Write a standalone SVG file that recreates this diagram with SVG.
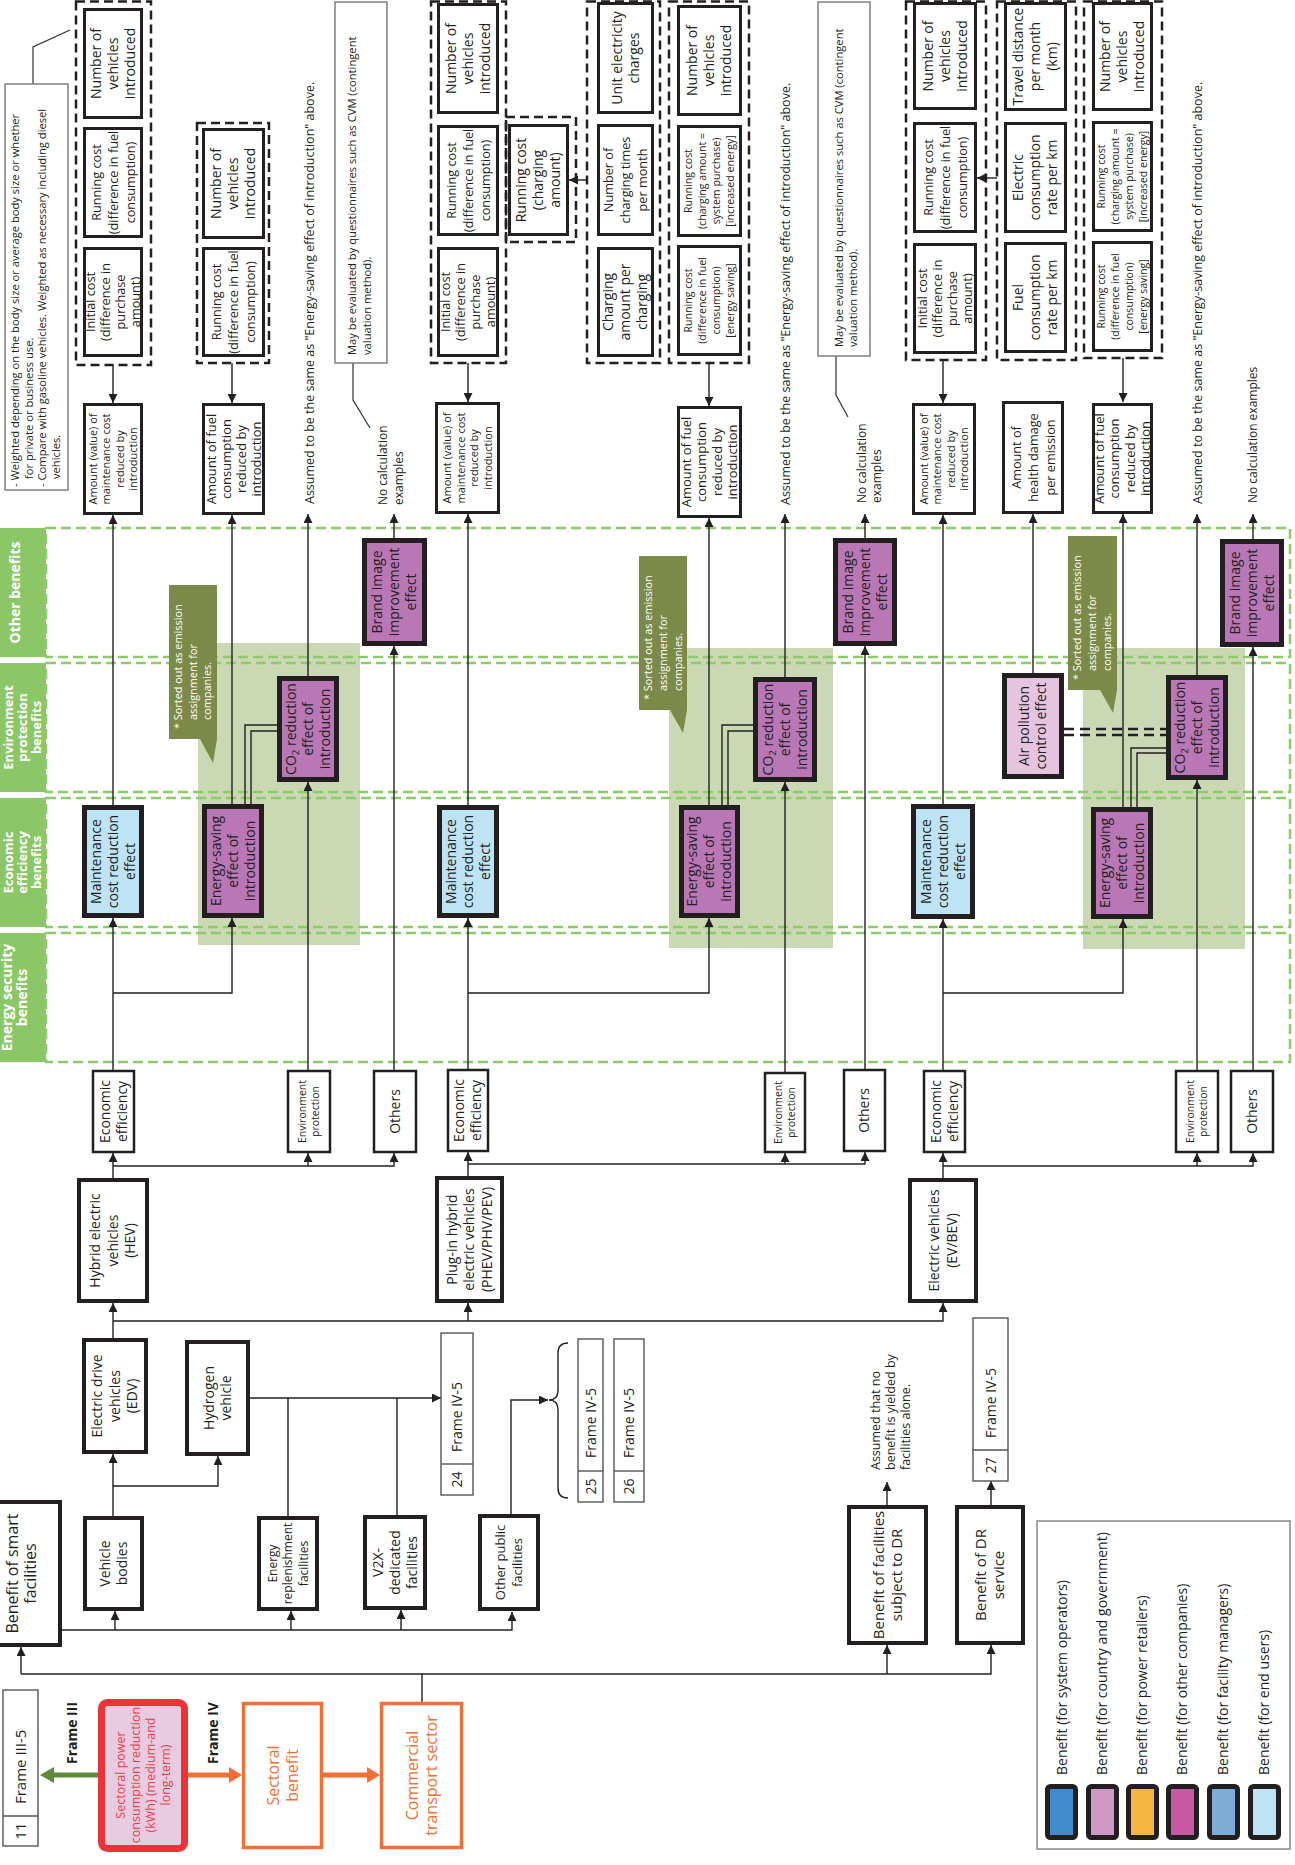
<svg xmlns="http://www.w3.org/2000/svg" width="1295" height="1865" viewBox="0 0 1295 1865">
<defs>
<marker id="ah" markerUnits="userSpaceOnUse" markerWidth="10" markerHeight="9" refX="9" refY="4.5" orient="auto"><path d="M0,0 L9,4.5 L0,9 z" fill="#231f20"/></marker>
<style>
.bx{fill:#fff;stroke:#231f20;stroke-width:3}
.bk{stroke:#231f20;stroke-width:5}
.vb{fill:#fff;stroke:#231f20;stroke-width:4}
.cb{fill:#fff;stroke:#231f20;stroke-width:2.5}
.fb{fill:#fff;stroke:#555;stroke-width:1.4}
.nb{fill:#fff;stroke:#777;stroke-width:1.4}
.gd{fill:none;stroke:#231f20;stroke-width:2.5;stroke-dasharray:9 5}
.band{fill:none;stroke:#8dcb6a;stroke-width:2.5;stroke-dasharray:10 5}
.lab{fill:#8cc767}
.hl{fill:#cad9b4}
.co{fill:#7b8a48}
.ln{fill:none;stroke:#231f20;stroke-width:1.4}
.a{marker-end:url(#ah)}
.pu{fill:#b978b5}
.lb{fill:#bde3f5}
.pk{fill:#e6c4e0}
.tx{font-family:"Open Sans","Liberation Sans",sans-serif;fill:#231f20;text-anchor:middle}
.st{text-anchor:start}
.w{fill:#fff}
.b{font-weight:bold}
.f16{font-size:16px}.f15{font-size:15px}.f14{font-size:14px}.f135{font-size:12.7px}.f13{font-size:13px}.f125{font-size:12.5px}.f12{font-size:12px}.f112{font-size:11.2px}.f11{font-size:11px}.f109{font-size:10.9px}.f108{font-size:10.6px}.f105{font-size:10.5px}
.lb3{font-size:13px}
</style>
</defs>
<rect width="1295" height="1865" fill="#fff"/>

<!-- category bands -->
<g id="bands">
<rect class="hl" x="198" y="643" width="162" height="302"/>
<rect class="hl" x="669" y="648" width="164" height="300"/>
<rect class="hl" x="1083" y="648" width="162" height="301"/>
<rect class="lab" x="-20" y="528" width="66" height="129"/>
<rect class="lab" x="-20" y="663" width="66" height="129"/>
<rect class="lab" x="-20" y="798" width="66" height="129"/>
<rect class="lab" x="-20" y="933" width="66" height="129"/>
<rect class="band" x="46" y="528" width="1244" height="129"/>
<rect class="band" x="46" y="663" width="1244" height="129"/>
<rect class="band" x="46" y="798" width="1244" height="129"/>
<rect class="band" x="46" y="933" width="1244" height="129"/>
<text class="tx w b f14" transform="translate(15 592.5) rotate(-90)"><tspan x="0" y="4.9">Other benefits</tspan></text>
<text class="tx w b lb3" transform="translate(22 727.5) rotate(-90)"><tspan x="0" y="-9.4">Environment</tspan><tspan x="0" y="4.6">protection</tspan><tspan x="0" y="18.6">benefits</tspan></text>
<text class="tx w b lb3" transform="translate(22 862.5) rotate(-90)"><tspan x="0" y="-9.4">Economic</tspan><tspan x="0" y="4.6">efficiency</tspan><tspan x="0" y="18.6">benefits</tspan></text>
<text class="tx w b f14" transform="translate(14.5 997.5) rotate(-90)"><tspan x="0" y="-2.6">Energy security</tspan><tspan x="0" y="12.4">benefits</tspan></text>
</g>

<!-- callouts -->
<g id="callout-hev"><polygon class="co" points="169,585 217,585 217,739 213,763 200,739 169,739"/>
<text class="tx st w f109" transform="translate(0 729) rotate(-90)"><tspan x="0" y="181.7">* Sorted out as emission</tspan><tspan x="9" y="196.7">assignment for</tspan><tspan x="9" y="211.2">companies.</tspan></text></g>
<g id="callout-phev"><polygon class="co" points="639,556 687,556 687,710 683,733 670,710 639,710"/>
<text class="tx st w f109" transform="translate(0 700) rotate(-90)"><tspan x="0" y="652">* Sorted out as emission</tspan><tspan x="9" y="667">assignment for</tspan><tspan x="9" y="682">companies.</tspan></text></g>
<g id="callout-ev"><polygon class="co" points="1068,536 1117,536 1117,690 1113,713 1100,690 1068,690"/>
<text class="tx st w f109" transform="translate(0 680) rotate(-90)"><tspan x="0" y="1081">* Sorted out as emission</tspan><tspan x="9" y="1096">assignment for</tspan><tspan x="9" y="1111">companies.</tspan></text></g>

<!-- connectors -->
<g id="connectors">
<path class="ln a" d="M113 1338V1303"/>
<path class="ln a" d="M113 1321H943V1303"/>
<path class="ln a" d="M468 1321V1303"/>
<path class="ln a" d="M113 1178V1153"/>
<path class="ln a" d="M113 1166H394V1153"/>
<path class="ln a" d="M308 1166V1153"/>
<path class="ln a" d="M113 1070V918"/>
<path class="ln a" d="M113 993H232V918"/>
<path class="ln a" d="M113 805V515"/>
<path class="ln a" d="M232 804V515"/>
<path class="ln" d="M245 804V725H277"/>
<path class="ln" d="M251 804V731H277"/>
<path class="ln a" d="M308 1070V782"/>
<path class="ln a" d="M308 676V514"/>
<path class="ln a" d="M394 1070V646"/>
<path class="ln a" d="M394 538V514"/>
<path class="ln a" d="M113 365V403"/>
<path class="ln a" d="M232 363V403"/>
<path class="ln a" d="M468 1176V1152"/>
<path class="ln a" d="M468 1164H865V1152"/>
<path class="ln a" d="M785 1164V1153"/>
<path class="ln a" d="M468 1069V918"/>
<path class="ln a" d="M468 993H709V918"/>
<path class="ln a" d="M468 805V514"/>
<path class="ln a" d="M709 805V518"/>
<path class="ln" d="M722 805V725H753"/>
<path class="ln" d="M728 805V731H753"/>
<path class="ln a" d="M785 1072V782"/>
<path class="ln a" d="M785 677V514"/>
<path class="ln a" d="M865 1069V646"/>
<path class="ln a" d="M865 538V514"/>
<path class="ln a" d="M468 363V402"/>
<path class="ln a" d="M709 363V406"/>
<path class="ln a" d="M587 180H569"/>
<path class="ln a" d="M943 1178V1153"/>
<path class="ln a" d="M943 1166H1253V1153"/>
<path class="ln a" d="M1197 1166V1153"/>
<path class="ln a" d="M943 1070V919"/>
<path class="ln a" d="M943 993H1123V919"/>
<path class="ln a" d="M943 804V515"/>
<path class="ln a" d="M1033 673V514"/>
<path class="ln a" d="M1123 807V514"/>
<path class="ln" d="M1131 807V748H1166"/>
<path class="ln" d="M1137 807V753H1166"/>
<path class="ln a" d="M1197 1070V780"/>
<path class="ln a" d="M1197 675V514"/>
<path class="ln a" d="M1253 1070V647"/>
<path class="ln a" d="M1253 539V514"/>
<path class="ln a" d="M943 360V403"/>
<path class="ln a" d="M1123 358V402"/>
<path class="ln a" d="M997 178H977"/>
<path d="M1064 729H1166M1064 735H1166" fill="none" stroke="#231f20" stroke-width="2.5" stroke-dasharray="10 6"/>
<path class="ln a" d="M113 1516V1454"/>
<path class="ln a" d="M113 1486H218V1456"/>
<path class="ln a" d="M62 1630H512V1612"/>
<path class="ln a" d="M115 1630V1611"/>
<path class="ln a" d="M291 1630V1611"/>
<path class="ln a" d="M401 1630V1610"/>
<path class="ln" d="M288 1516V1398"/>
<path class="ln" d="M397 1515V1398"/>
<path class="ln a" d="M250 1398H441"/>
<path class="ln a" d="M511 1514V1400H548"/>
<path class="ln" d="M568 1343Q558 1343 558 1353V1390Q558 1400 549 1400Q558 1400 558 1410V1488Q558 1498 568 1498"/>
<path class="ln a" d="M21 1674H991V1645"/>
<path class="ln a" d="M21 1674V1647"/>
<path class="ln a" d="M887 1674V1645"/>
<path class="ln" d="M422 1702V1674"/>
<path class="ln a" d="M887 1505V1482"/>
<path class="ln a" d="M991 1505V1481"/>
<path d="M33 84V47L70 30M353 363V400L370 428M836 356V395L848 417" fill="none" stroke="#333" stroke-width="1.2"/>
<line x1="98" y1="1775" x2="52" y2="1775" stroke="#5b8b3b" stroke-width="5"/>
<polygon points="40,1775 54,1767 54,1783" fill="#5b8b3b"/>
<line x1="188" y1="1775" x2="231" y2="1775" stroke="#f26f35" stroke-width="5"/>
<polygon points="242,1775 229,1767 229,1783" fill="#f26f35"/>
<line x1="323" y1="1775" x2="369" y2="1775" stroke="#f26f35" stroke-width="5"/>
<polygon points="380,1775 367,1767 367,1783" fill="#f26f35"/>
</g>

<!-- notes -->
<g id="note-weighted"><rect class="nb" x="5" y="84" width="63" height="406"/>
<text class="tx st f112" transform="translate(0 487) rotate(-90)"><tspan x="0" y="18.9">- Weighted depending on the body size or average body size or whether</tspan><tspan x="8" y="32.6">for private or business use.</tspan><tspan x="0" y="46.3">- Compare with gasoline vehicles. Weighted as necessary including diesel</tspan><tspan x="8" y="60">vehicles.</tspan></text></g>
<g id="note-cvm1"><rect class="nb" x="335" y="2" width="52" height="361"/>
<text class="tx st f112" transform="translate(0 355) rotate(-90)"><tspan x="0" y="355.9">May be evaluated by questionnaires such as CVM (contingent</tspan><tspan x="0" y="370.9">valuation method).</tspan></text></g>
<g id="note-cvm2"><rect class="nb" x="818" y="2" width="52" height="354"/>
<text class="tx st f112" transform="translate(0 347) rotate(-90)"><tspan x="0" y="842.9">May be evaluated by questionnaires such as CVM (contingent</tspan><tspan x="0" y="856.9">valuation method).</tspan></text></g>
<g id="text-assumed1"><text class="tx st f125" transform="translate(0 504) rotate(-90)"><tspan x="0" y="314.4">Assumed to be the same as &quot;Energy-saving effect of introduction&quot; above.</tspan></text></g>
<g id="text-assumed2"><text class="tx st f125" transform="translate(0 505) rotate(-90)"><tspan x="0" y="790.4">Assumed to be the same as &quot;Energy-saving effect of introduction&quot; above.</tspan></text></g>
<g id="text-assumed3"><text class="tx st f125" transform="translate(0 504) rotate(-90)"><tspan x="0" y="1202.4">Assumed to be the same as &quot;Energy-saving effect of introduction&quot; above.</tspan></text></g>
<g id="text-nocalc1"><text class="tx st f12" transform="translate(0 505) rotate(-90)"><tspan x="0" y="387.2">No calculation</tspan><tspan x="0" y="403.2">examples</tspan></text></g>
<g id="text-nocalc2"><text class="tx st f12" transform="translate(0 503) rotate(-90)"><tspan x="0" y="866">No calculation</tspan><tspan x="0" y="881">examples</tspan></text></g>
<g id="text-nocalc3"><text class="tx st f12" transform="translate(0 503) rotate(-90)"><tspan x="0" y="1257">No calculation examples</tspan></text></g>
<g id="text-dr-note"><text class="tx st f125" transform="translate(0 1470) rotate(-90)"><tspan x="0" y="880.4">Assumed that no</tspan><tspan x="0" y="895.4">benefit is yielded by</tspan><tspan x="0" y="910.4">facilities alone.</tspan></text></g>

<!-- HEV indicator groups -->
<g id="hev-ind1">
<rect class="gd" x="76" y="1.5" width="75" height="363.5"/>
<rect class="bx" x="84.5" y="9.5" width="57" height="108"/>
<text class="tx f14" transform="translate(113 63.5) rotate(-90)"><tspan x="0" y="-12.1">Number of</tspan><tspan x="0" y="4.9">vehicles</tspan><tspan x="0" y="21.9">introduced</tspan></text>
<rect class="bx" x="84.5" y="128.5" width="57" height="108"/>
<text class="tx f135" transform="translate(113 182.5) rotate(-90)"><tspan x="0" y="-12.3">Running cost</tspan><tspan x="0" y="4.7">(difference in fuel</tspan><tspan x="0" y="21.7">consumption)</tspan></text>
<rect class="bx" x="84.5" y="248.5" width="57" height="107"/>
<text class="tx f135" transform="translate(113 302) rotate(-90)"><tspan x="0" y="-17.8">Initial cost</tspan><tspan x="0" y="-2.8">(difference in</tspan><tspan x="0" y="12.2">purchase</tspan><tspan x="0" y="27.2">amount)</tspan></text>
</g>
<g id="hev-amount-maint"><rect class="bx" x="84.5" y="404.5" width="57" height="109"/>
<text class="tx f11" transform="translate(113 459) rotate(-90)"><tspan x="0" y="-16.4">Amount (value) of</tspan><tspan x="0" y="-2.9">maintenance cost</tspan><tspan x="0" y="10.6">reduced by</tspan><tspan x="0" y="24.1">introduction</tspan></text></g>
<g id="hev-ind2">
<rect class="gd" x="197" y="123" width="72" height="240"/>
<rect class="bx" x="203.5" y="129.5" width="60" height="108"/>
<text class="tx f14" transform="translate(233.5 183.5) rotate(-90)"><tspan x="0" y="-12.1">Number of</tspan><tspan x="0" y="4.9">vehicles</tspan><tspan x="0" y="21.9">introduced</tspan></text>
<rect class="bx" x="203.5" y="248.5" width="60" height="107"/>
<text class="tx f135" transform="translate(233.5 302) rotate(-90)"><tspan x="0" y="-12.3">Running cost</tspan><tspan x="0" y="4.7">(difference in fuel</tspan><tspan x="0" y="21.7">consumption)</tspan></text>
</g>
<g id="hev-amount-fuel"><rect class="bx" x="203.5" y="404.5" width="60" height="109"/>
<text class="tx f13" transform="translate(234 459) rotate(-90)"><tspan x="0" y="-18.3">Amount of fuel</tspan><tspan x="0" y="-3.1">consumption</tspan><tspan x="0" y="12.1">reduced by</tspan><tspan x="0" y="27.3">introduction</tspan></text></g>

<!-- PHEV indicator groups -->
<g id="phev-ind1">
<rect class="gd" x="431" y="1.5" width="75" height="361.5"/>
<rect class="gd" x="506" y="117" width="70" height="125"/>
<rect class="bx" x="438.5" y="4.5" width="59" height="108"/>
<text class="tx f14" transform="translate(468 58.5) rotate(-90)"><tspan x="0" y="-12.1">Number of</tspan><tspan x="0" y="4.9">vehicles</tspan><tspan x="0" y="21.9">introduced</tspan></text>
<rect class="bx" x="438.5" y="126.5" width="59" height="108"/>
<text class="tx f135" transform="translate(468 180.5) rotate(-90)"><tspan x="0" y="-12.3">Running cost</tspan><tspan x="0" y="4.7">(difference in fuel</tspan><tspan x="0" y="21.7">consumption)</tspan></text>
<rect class="bx" x="438.5" y="248.5" width="59" height="107"/>
<text class="tx f135" transform="translate(468 302) rotate(-90)"><tspan x="0" y="-17.8">Initial cost</tspan><tspan x="0" y="-2.8">(difference in</tspan><tspan x="0" y="12.2">purchase</tspan><tspan x="0" y="27.2">amount)</tspan></text>
<rect class="bx" x="509.5" y="125.5" width="58" height="109"/>
<text class="tx f14" transform="translate(538.5 180) rotate(-90)"><tspan x="0" y="-12.1">Running cost</tspan><tspan x="0" y="4.9">(charging</tspan><tspan x="0" y="21.9">amount)</tspan></text>
</g>
<g id="phev-ind-charge">
<rect class="gd" x="587" y="1.5" width="73" height="361.5"/>
<rect class="bx" x="598.5" y="3.5" width="54" height="109"/>
<text class="tx f14" transform="translate(625.5 58) rotate(-90)"><tspan x="0" y="-3.6">Unit electricity</tspan><tspan x="0" y="13.4">charges</tspan></text>
<rect class="bx" x="598.5" y="125.5" width="54" height="109"/>
<text class="tx f135" transform="translate(625.5 180) rotate(-90)"><tspan x="0" y="-12.3">Number of</tspan><tspan x="0" y="4.7">charging times</tspan><tspan x="0" y="21.7">per month</tspan></text>
<rect class="bx" x="598.5" y="248.5" width="54" height="107"/>
<text class="tx f14" transform="translate(625.5 302) rotate(-90)"><tspan x="0" y="-12.1">Charging</tspan><tspan x="0" y="4.9">amount per</tspan><tspan x="0" y="21.9">charging</tspan></text>
</g>
<g id="phev-ind2">
<rect class="gd" x="669" y="1.5" width="80" height="361.5"/>
<rect class="bx" x="678.5" y="6.5" width="62" height="108"/>
<text class="tx f14" transform="translate(709.5 60.5) rotate(-90)"><tspan x="0" y="-12.1">Number of</tspan><tspan x="0" y="4.9">vehicles</tspan><tspan x="0" y="21.9">introduced</tspan></text>
<rect class="bx" x="678.5" y="126.5" width="62" height="109"/>
<text class="tx f108" transform="translate(709.5 181) rotate(-90)"><tspan x="0" y="-17.2">Running cost</tspan><tspan x="0" y="-3.2">(charging amount =</tspan><tspan x="0" y="10.8">system purchase)</tspan><tspan x="0" y="24.8">[increased energy]</tspan></text>
<rect class="bx" x="678.5" y="246.5" width="62" height="108"/>
<text class="tx f108" transform="translate(709.5 300.5) rotate(-90)"><tspan x="0" y="-17.2">Running cost</tspan><tspan x="0" y="-3.2">(difference in fuel</tspan><tspan x="0" y="10.8">consumption)</tspan><tspan x="0" y="24.8">[energy saving]</tspan></text>
</g>
<g id="phev-amount-maint"><rect class="bx" x="436.5" y="403.5" width="62" height="109"/>
<text class="tx f11" transform="translate(467.5 458) rotate(-90)"><tspan x="0" y="-16.4">Amount (value) of</tspan><tspan x="0" y="-2.9">maintenance cost</tspan><tspan x="0" y="10.6">reduced by</tspan><tspan x="0" y="24.1">introduction</tspan></text></g>
<g id="phev-amount-fuel"><rect class="bx" x="678.5" y="407.5" width="62" height="109"/>
<text class="tx f13" transform="translate(709.5 462) rotate(-90)"><tspan x="0" y="-18.3">Amount of fuel</tspan><tspan x="0" y="-3.1">consumption</tspan><tspan x="0" y="12.1">reduced by</tspan><tspan x="0" y="27.3">introduction</tspan></text></g>

<!-- EV indicator groups -->
<g id="ev-ind1">
<rect class="gd" x="906" y="1.5" width="80" height="358.5"/>
<rect class="bx" x="914.5" y="3.5" width="61" height="105"/>
<text class="tx f14" transform="translate(945 56) rotate(-90)"><tspan x="0" y="-12.1">Number of</tspan><tspan x="0" y="4.9">vehicles</tspan><tspan x="0" y="21.9">introduced</tspan></text>
<rect class="bx" x="914.5" y="123.5" width="61" height="108"/>
<text class="tx f135" transform="translate(945 177.5) rotate(-90)"><tspan x="0" y="-12.3">Running cost</tspan><tspan x="0" y="4.7">(difference in fuel</tspan><tspan x="0" y="21.7">consumption)</tspan></text>
<rect class="bx" x="914.5" y="244.5" width="61" height="108"/>
<text class="tx f135" transform="translate(945 298.5) rotate(-90)"><tspan x="0" y="-17.8">Initial cost</tspan><tspan x="0" y="-2.8">(difference in</tspan><tspan x="0" y="12.2">purchase</tspan><tspan x="0" y="27.2">amount)</tspan></text>
</g>
<g id="ev-ind-rate">
<rect class="gd" x="997" y="1.5" width="79" height="358.5"/>
<rect class="bx" x="1005.5" y="3.5" width="60" height="106"/>
<text class="tx f14" transform="translate(1035.5 56.5) rotate(-90)"><tspan x="0" y="-12.1">Travel distance</tspan><tspan x="0" y="4.9">per month</tspan><tspan x="0" y="21.9">(km)</tspan></text>
<rect class="bx" x="1005.5" y="123.5" width="60" height="108"/>
<text class="tx f14" transform="translate(1035.5 177.5) rotate(-90)"><tspan x="0" y="-12.1">Electric</tspan><tspan x="0" y="4.9">consumption</tspan><tspan x="0" y="21.9">rate per km</tspan></text>
<rect class="bx" x="1005.5" y="243.5" width="60" height="108"/>
<text class="tx f14" transform="translate(1035.5 297.5) rotate(-90)"><tspan x="0" y="-12.1">Fuel</tspan><tspan x="0" y="4.9">consumption</tspan><tspan x="0" y="21.9">rate per km</tspan></text>
</g>
<g id="ev-ind2">
<rect class="gd" x="1084" y="1.5" width="78" height="356.5"/>
<rect class="bx" x="1093.5" y="3.5" width="58" height="106"/>
<text class="tx f14" transform="translate(1122.5 56.5) rotate(-90)"><tspan x="0" y="-12.1">Number of</tspan><tspan x="0" y="4.9">vehicles</tspan><tspan x="0" y="21.9">introduced</tspan></text>
<rect class="bx" x="1093.5" y="122.5" width="58" height="108"/>
<text class="tx f108" transform="translate(1122.5 176.5) rotate(-90)"><tspan x="0" y="-17.2">Running cost</tspan><tspan x="0" y="-3.2">(charging amount =</tspan><tspan x="0" y="10.8">system purchase)</tspan><tspan x="0" y="24.8">[increased energy]</tspan></text>
<rect class="bx" x="1093.5" y="242.5" width="58" height="108"/>
<text class="tx f108" transform="translate(1122.5 296.5) rotate(-90)"><tspan x="0" y="-17.2">Running cost</tspan><tspan x="0" y="-3.2">(difference in fuel</tspan><tspan x="0" y="10.8">consumption)</tspan><tspan x="0" y="24.8">[energy saving]</tspan></text>
</g>
<g id="ev-amount-maint"><rect class="bx" x="913.5" y="404.5" width="61" height="109"/>
<text class="tx f11" transform="translate(944 459) rotate(-90)"><tspan x="0" y="-16.4">Amount (value) of</tspan><tspan x="0" y="-2.9">maintenance cost</tspan><tspan x="0" y="10.6">reduced by</tspan><tspan x="0" y="24.1">introduction</tspan></text></g>
<g id="ev-amount-health"><rect class="bx" x="1003.5" y="402.5" width="59" height="110"/>
<text class="tx f135" transform="translate(1033 457.5) rotate(-90)"><tspan x="0" y="-12.3">Amount of</tspan><tspan x="0" y="4.7">health damage</tspan><tspan x="0" y="21.7">per emission</tspan></text></g>
<g id="ev-amount-fuel"><rect class="bx" x="1093.5" y="404.5" width="58" height="108"/>
<text class="tx f13" transform="translate(1122.5 458.5) rotate(-90)"><tspan x="0" y="-18.3">Amount of fuel</tspan><tspan x="0" y="-3.1">consumption</tspan><tspan x="0" y="12.1">reduced by</tspan><tspan x="0" y="27.3">introduction</tspan></text></g>

<!-- benefit nodes -->
<g id="hev-maint"><rect class="bk lb" x="84.5" y="807.5" width="57" height="108"/>
<text class="tx f14" transform="translate(113 861.5) rotate(-90)"><tspan x="0" y="-12.1">Maintenance</tspan><tspan x="0" y="4.9">cost reduction</tspan><tspan x="0" y="21.9">effect</tspan></text></g>
<g id="hev-energy"><rect class="bk pu" x="204.5" y="806.5" width="57" height="109"/>
<text class="tx f14" transform="translate(233 861) rotate(-90)"><tspan x="0" y="-12.1">Energy-saving</tspan><tspan x="0" y="4.9">effect of</tspan><tspan x="0" y="21.9">introduction</tspan></text></g>
<g id="hev-co2"><rect class="bk pu" x="279.5" y="678.5" width="57" height="101"/>
<text class="tx f14" transform="translate(308 729) rotate(-90)"><tspan x="0" y="-12.1">CO<tspan font-size="9.5" dy="3">2</tspan><tspan dy="-3"> reduction</tspan></tspan><tspan x="0" y="4.9">effect of</tspan><tspan x="0" y="21.9">introduction</tspan></text></g>
<g id="hev-brand"><rect class="bk pu" x="364.5" y="540.5" width="60" height="103"/>
<text class="tx f14" transform="translate(394.5 592) rotate(-90)"><tspan x="0" y="-12.1">Brand image</tspan><tspan x="0" y="4.9">improvement</tspan><tspan x="0" y="21.9">effect</tspan></text></g>
<g id="phev-maint"><rect class="bk lb" x="439.5" y="807.5" width="57" height="108"/>
<text class="tx f14" transform="translate(468 861.5) rotate(-90)"><tspan x="0" y="-12.1">Maintenance</tspan><tspan x="0" y="4.9">cost reduction</tspan><tspan x="0" y="21.9">effect</tspan></text></g>
<g id="phev-energy"><rect class="bk pu" x="681.5" y="807.5" width="56" height="108"/>
<text class="tx f14" transform="translate(709.5 861.5) rotate(-90)"><tspan x="0" y="-12.1">Energy-saving</tspan><tspan x="0" y="4.9">effect of</tspan><tspan x="0" y="21.9">introduction</tspan></text></g>
<g id="phev-co2"><rect class="bk pu" x="755.5" y="679.5" width="59" height="100"/>
<text class="tx f14" transform="translate(785 729.5) rotate(-90)"><tspan x="0" y="-12.1">CO<tspan font-size="9.5" dy="3">2</tspan><tspan dy="-3"> reduction</tspan></tspan><tspan x="0" y="4.9">effect of</tspan><tspan x="0" y="21.9">introduction</tspan></text></g>
<g id="phev-brand"><rect class="bk pu" x="835.5" y="540.5" width="59" height="103"/>
<text class="tx f14" transform="translate(865 592) rotate(-90)"><tspan x="0" y="-12.1">Brand image</tspan><tspan x="0" y="4.9">improvement</tspan><tspan x="0" y="21.9">effect</tspan></text></g>
<g id="ev-maint"><rect class="bk lb" x="913.5" y="806.5" width="59" height="110"/>
<text class="tx f14" transform="translate(943 861.5) rotate(-90)"><tspan x="0" y="-12.1">Maintenance</tspan><tspan x="0" y="4.9">cost reduction</tspan><tspan x="0" y="21.9">effect</tspan></text></g>
<g id="ev-air"><rect class="bk pk" x="1004.5" y="675.5" width="57" height="101"/>
<text class="tx f14" transform="translate(1033 726) rotate(-90)"><tspan x="0" y="-3.6">Air pollution</tspan><tspan x="0" y="13.4">control effect</tspan></text></g>
<g id="ev-energy"><rect class="bk pu" x="1093.5" y="809.5" width="57" height="107"/>
<text class="tx f14" transform="translate(1122 863) rotate(-90)"><tspan x="0" y="-12.1">Energy-saving</tspan><tspan x="0" y="4.9">effect of</tspan><tspan x="0" y="21.9">introduction</tspan></text></g>
<g id="ev-co2"><rect class="bk pu" x="1168.5" y="677.5" width="57" height="100"/>
<text class="tx f14" transform="translate(1197 727.5) rotate(-90)"><tspan x="0" y="-12.1">CO<tspan font-size="9.5" dy="3">2</tspan><tspan dy="-3"> reduction</tspan></tspan><tspan x="0" y="4.9">effect of</tspan><tspan x="0" y="21.9">introduction</tspan></text></g>
<g id="ev-brand"><rect class="bk pu" x="1222.5" y="541.5" width="59" height="103"/>
<text class="tx f14" transform="translate(1252 593) rotate(-90)"><tspan x="0" y="-12.1">Brand image</tspan><tspan x="0" y="4.9">improvement</tspan><tspan x="0" y="21.9">effect</tspan></text></g>

<!-- category boxes -->
<g id="hev-econ"><rect class="cb" x="93" y="1071" width="41" height="81"/><text class="tx f14" transform="translate(113.5 1111.5) rotate(-90)"><tspan x="0" y="-3.6">Economic</tspan><tspan x="0" y="13.4">efficiency</tspan></text></g>
<g id="hev-env"><rect class="cb" x="288" y="1071" width="42" height="81"/><text class="tx f105" transform="translate(309 1111.5) rotate(-90)"><tspan x="0" y="-2.8">Environment</tspan><tspan x="0" y="10.2">protection</tspan></text></g>
<g id="hev-others"><rect class="cb" x="374" y="1071" width="42" height="81"/><text class="tx f14" transform="translate(395 1111.5) rotate(-90)"><tspan x="0" y="4.9">Others</tspan></text></g>
<g id="phev-econ"><rect class="cb" x="448" y="1070" width="40" height="81"/><text class="tx f14" transform="translate(468 1110.5) rotate(-90)"><tspan x="0" y="-3.6">Economic</tspan><tspan x="0" y="13.4">efficiency</tspan></text></g>
<g id="phev-env"><rect class="cb" x="765" y="1073" width="40" height="79"/><text class="tx f105" transform="translate(785 1112.5) rotate(-90)"><tspan x="0" y="-2.8">Environment</tspan><tspan x="0" y="10.2">protection</tspan></text></g>
<g id="phev-others"><rect class="cb" x="844" y="1070" width="41" height="81"/><text class="tx f14" transform="translate(864.5 1110.5) rotate(-90)"><tspan x="0" y="4.9">Others</tspan></text></g>
<g id="ev-econ"><rect class="cb" x="924" y="1071" width="41" height="81"/><text class="tx f14" transform="translate(944.5 1111.5) rotate(-90)"><tspan x="0" y="-3.6">Economic</tspan><tspan x="0" y="13.4">efficiency</tspan></text></g>
<g id="ev-env"><rect class="cb" x="1176" y="1071" width="42" height="81"/><text class="tx f105" transform="translate(1197 1111.5) rotate(-90)"><tspan x="0" y="-2.8">Environment</tspan><tspan x="0" y="10.2">protection</tspan></text></g>
<g id="ev-others"><rect class="cb" x="1231" y="1071" width="42" height="81"/><text class="tx f14" transform="translate(1252 1111.5) rotate(-90)"><tspan x="0" y="4.9">Others</tspan></text></g>

<!-- vehicle / facility boxes -->
<g id="hev"><rect class="vb" x="79" y="1180" width="68" height="121"/><text class="tx f14" transform="translate(113 1240.5) rotate(-90)"><tspan x="0" y="-12.6">Hybrid electric</tspan><tspan x="0" y="4.9">vehicles</tspan><tspan x="0" y="22.4">(HEV)</tspan></text></g>
<g id="phev"><rect class="vb" x="437" y="1178" width="65" height="123"/><text class="tx f14" transform="translate(469.5 1239.5) rotate(-90)"><tspan x="0" y="-12.6">Plug-in hybrid</tspan><tspan x="0" y="4.9">electric vehicles</tspan><tspan x="0" y="22.4">(PHEV/PHV/PEV)</tspan></text></g>
<g id="ev"><rect class="vb" x="910" y="1180" width="66" height="121"/><text class="tx f14" transform="translate(943 1240.5) rotate(-90)"><tspan x="0" y="-3.8">Electric vehicles</tspan><tspan x="0" y="13.6">(EV/BEV)</tspan></text></g>
<g id="edv"><rect class="vb" x="84" y="1340" width="62" height="112"/><text class="tx f14" transform="translate(115 1396) rotate(-90)"><tspan x="0" y="-12.6">Electric drive</tspan><tspan x="0" y="4.9">vehicles</tspan><tspan x="0" y="22.4">(EDV)</tspan></text></g>
<g id="hydrogen"><rect class="vb" x="187" y="1342" width="61" height="112"/><text class="tx f14" transform="translate(217.5 1398) rotate(-90)"><tspan x="0" y="-3.8">Hydrogen</tspan><tspan x="0" y="13.6">vehicle</tspan></text></g>
<g id="vehicle-bodies"><rect class="vb" x="85" y="1518" width="57" height="91"/><text class="tx f14" transform="translate(113.5 1563.5) rotate(-90)"><tspan x="0" y="-3.8">Vehicle</tspan><tspan x="0" y="13.6">bodies</tspan></text></g>
<g id="energy-repl"><rect class="vb" x="259" y="1518" width="58" height="91"/><text class="tx f12" transform="translate(288 1563.5) rotate(-90)"><tspan x="0" y="-11.1">Energy</tspan><tspan x="0" y="4.2">replenishment</tspan><tspan x="0" y="19.5">facilities</tspan></text></g>
<g id="v2x"><rect class="vb" x="365" y="1517" width="60" height="91"/><text class="tx f14" transform="translate(395 1562.5) rotate(-90)"><tspan x="0" y="-12.1">V2X-</tspan><tspan x="0" y="4.9">dedicated</tspan><tspan x="0" y="21.9">facilities</tspan></text></g>
<g id="other-public"><rect class="vb" x="480" y="1516" width="58" height="93"/><text class="tx f13" transform="translate(509 1562.5) rotate(-90)"><tspan x="0" y="-3.6">Other public</tspan><tspan x="0" y="12.9">facilities</tspan></text></g>
<g id="smart"><rect class="vb" x="-10" y="1502" width="70" height="143"/><text class="tx f16" transform="translate(21 1573.5) rotate(-90)"><tspan x="0" y="-3.4">Benefit of smart</tspan><tspan x="0" y="14.6">facilities</tspan></text></g>
<g id="dr-facilities"><rect class="vb" x="849" y="1507" width="77" height="136"/><text class="tx f15" transform="translate(887.5 1575) rotate(-90)"><tspan x="0" y="-3.9">Benefit of facilities</tspan><tspan x="0" y="14.1">subject to DR</tspan></text></g>
<g id="dr-service"><rect class="vb" x="957" y="1507" width="66" height="136"/><text class="tx f15" transform="translate(990 1575) rotate(-90)"><tspan x="0" y="-3.9">Benefit of DR</tspan><tspan x="0" y="14.1">service</tspan></text></g>

<!-- frame references -->
<g id="frame11"><rect class="fb" x="3" y="1690" width="35" height="156"/><line x1="3" y1="1816" x2="38" y2="1816" stroke="#555" stroke-width="1.4"/>
<text class="tx st f15" transform="translate(0 1804) rotate(-90)"><tspan x="0" y="26">Frame III-5</tspan></text>
<text class="tx f15" transform="translate(20.5 1831) rotate(-90)"><tspan x="0" y="5.3">11</tspan></text></g>
<g id="frame24"><rect class="fb" x="441" y="1333" width="32" height="162"/><line x1="441" y1="1464" x2="473" y2="1464" stroke="#555" stroke-width="1.4"/>
<text class="tx st f14" transform="translate(0 1452) rotate(-90)"><tspan x="0" y="462">Frame IV-5</tspan></text>
<text class="tx f14" transform="translate(457 1479.5) rotate(-90)"><tspan x="0" y="5">24</tspan></text></g>
<g id="frame25"><rect class="fb" x="578" y="1339" width="25" height="163"/><line x1="578" y1="1471" x2="603" y2="1471" stroke="#555" stroke-width="1.4"/>
<text class="tx st f14" transform="translate(0 1458) rotate(-90)"><tspan x="0" y="595.5">Frame IV-5</tspan></text>
<text class="tx f14" transform="translate(590.5 1486.5) rotate(-90)"><tspan x="0" y="5">25</tspan></text></g>
<g id="frame26"><rect class="fb" x="614" y="1339" width="30" height="163"/><line x1="614" y1="1471" x2="644" y2="1471" stroke="#555" stroke-width="1.4"/>
<text class="tx st f14" transform="translate(0 1458) rotate(-90)"><tspan x="0" y="634">Frame IV-5</tspan></text>
<text class="tx f14" transform="translate(629 1486.5) rotate(-90)"><tspan x="0" y="5">26</tspan></text></g>
<g id="frame27"><rect class="fb" x="973" y="1318" width="35" height="163"/><line x1="973" y1="1450" x2="1008" y2="1450" stroke="#555" stroke-width="1.4"/>
<text class="tx st f14" transform="translate(0 1438) rotate(-90)"><tspan x="0" y="995.5">Frame IV-5</tspan></text>
<text class="tx f14" transform="translate(990.5 1465.5) rotate(-90)"><tspan x="0" y="5">27</tspan></text></g>

<!-- frame III / IV head -->
<g id="label-frame3"><text class="tx b f14" transform="translate(72 1733) rotate(-90)"><tspan x="0" y="5">Frame III</tspan></text></g>
<g id="label-frame4"><text class="tx b f14" transform="translate(213 1733) rotate(-90)"><tspan x="0" y="5">Frame IV</tspan></text></g>
<g id="sectoral-power"><rect x="101.5" y="1702.5" width="83" height="146" rx="6" fill="#e8cbe0" stroke="#ee3338" stroke-width="7"/>
<text class="tx f125" style="fill:#e8414a" transform="translate(143.5 1775) rotate(-90)"><tspan x="0" y="-18.1">Sectoral power</tspan><tspan x="0" y="-3.1">consumption reduction</tspan><tspan x="0" y="11.9">(kWh) (medium-and</tspan><tspan x="0" y="26.9">long-term)</tspan></text></g>
<g id="sectoral-benefit"><rect x="243.5" y="1703.5" width="78" height="144" fill="#fff" stroke="#f26f35" stroke-width="3.5"/>
<text class="tx f16" style="fill:#f26f35" transform="translate(282.5 1775.5) rotate(-90)"><tspan x="0" y="-3.9">Sectoral</tspan><tspan x="0" y="15.1">benefit</tspan></text></g>
<g id="commercial"><rect x="381.5" y="1703.5" width="80" height="144" fill="#fff" stroke="#f26f35" stroke-width="3.5"/>
<text class="tx f16" style="fill:#f26f35" transform="translate(421.5 1775.5) rotate(-90)"><tspan x="0" y="-3.9">Commercial</tspan><tspan x="0" y="15.1">transport sector</tspan></text></g>

<!-- legend -->
<g id="legend">
<rect x="1037" y="1521" width="253" height="328" fill="#fff" stroke="#888" stroke-width="1.5"/>
<rect class="bk" x="1047.5" y="1786.5" width="28" height="51" rx="3" fill="#3f8bcb"/>
<rect class="bk" x="1088.5" y="1786.5" width="28" height="51" rx="3" fill="#cf98c5"/>
<rect class="bk" x="1128.5" y="1786.5" width="28" height="51" rx="3" fill="#f4b63f"/>
<rect class="bk" x="1168.5" y="1786.5" width="28" height="51" rx="3" fill="#c659a0"/>
<rect class="bk" x="1209.5" y="1786.5" width="28" height="51" rx="3" fill="#7facd6"/>
<rect class="bk" x="1250.5" y="1786.5" width="28" height="51" rx="3" fill="#bde3f5"/>
<text class="tx st f14" transform="translate(0 1775) rotate(-90)"><tspan x="0" y="1066.9">Benefit (for system operators)</tspan><tspan x="0" y="1106.9">Benefit (for country and government)</tspan><tspan x="0" y="1146.9">Benefit (for power retailers)</tspan><tspan x="0" y="1186.9">Benefit (for other companies)</tspan><tspan x="0" y="1227.9">Benefit (for facility managers)</tspan><tspan x="0" y="1268.9">Benefit (for end users)</tspan></text>
</g>
</svg>
